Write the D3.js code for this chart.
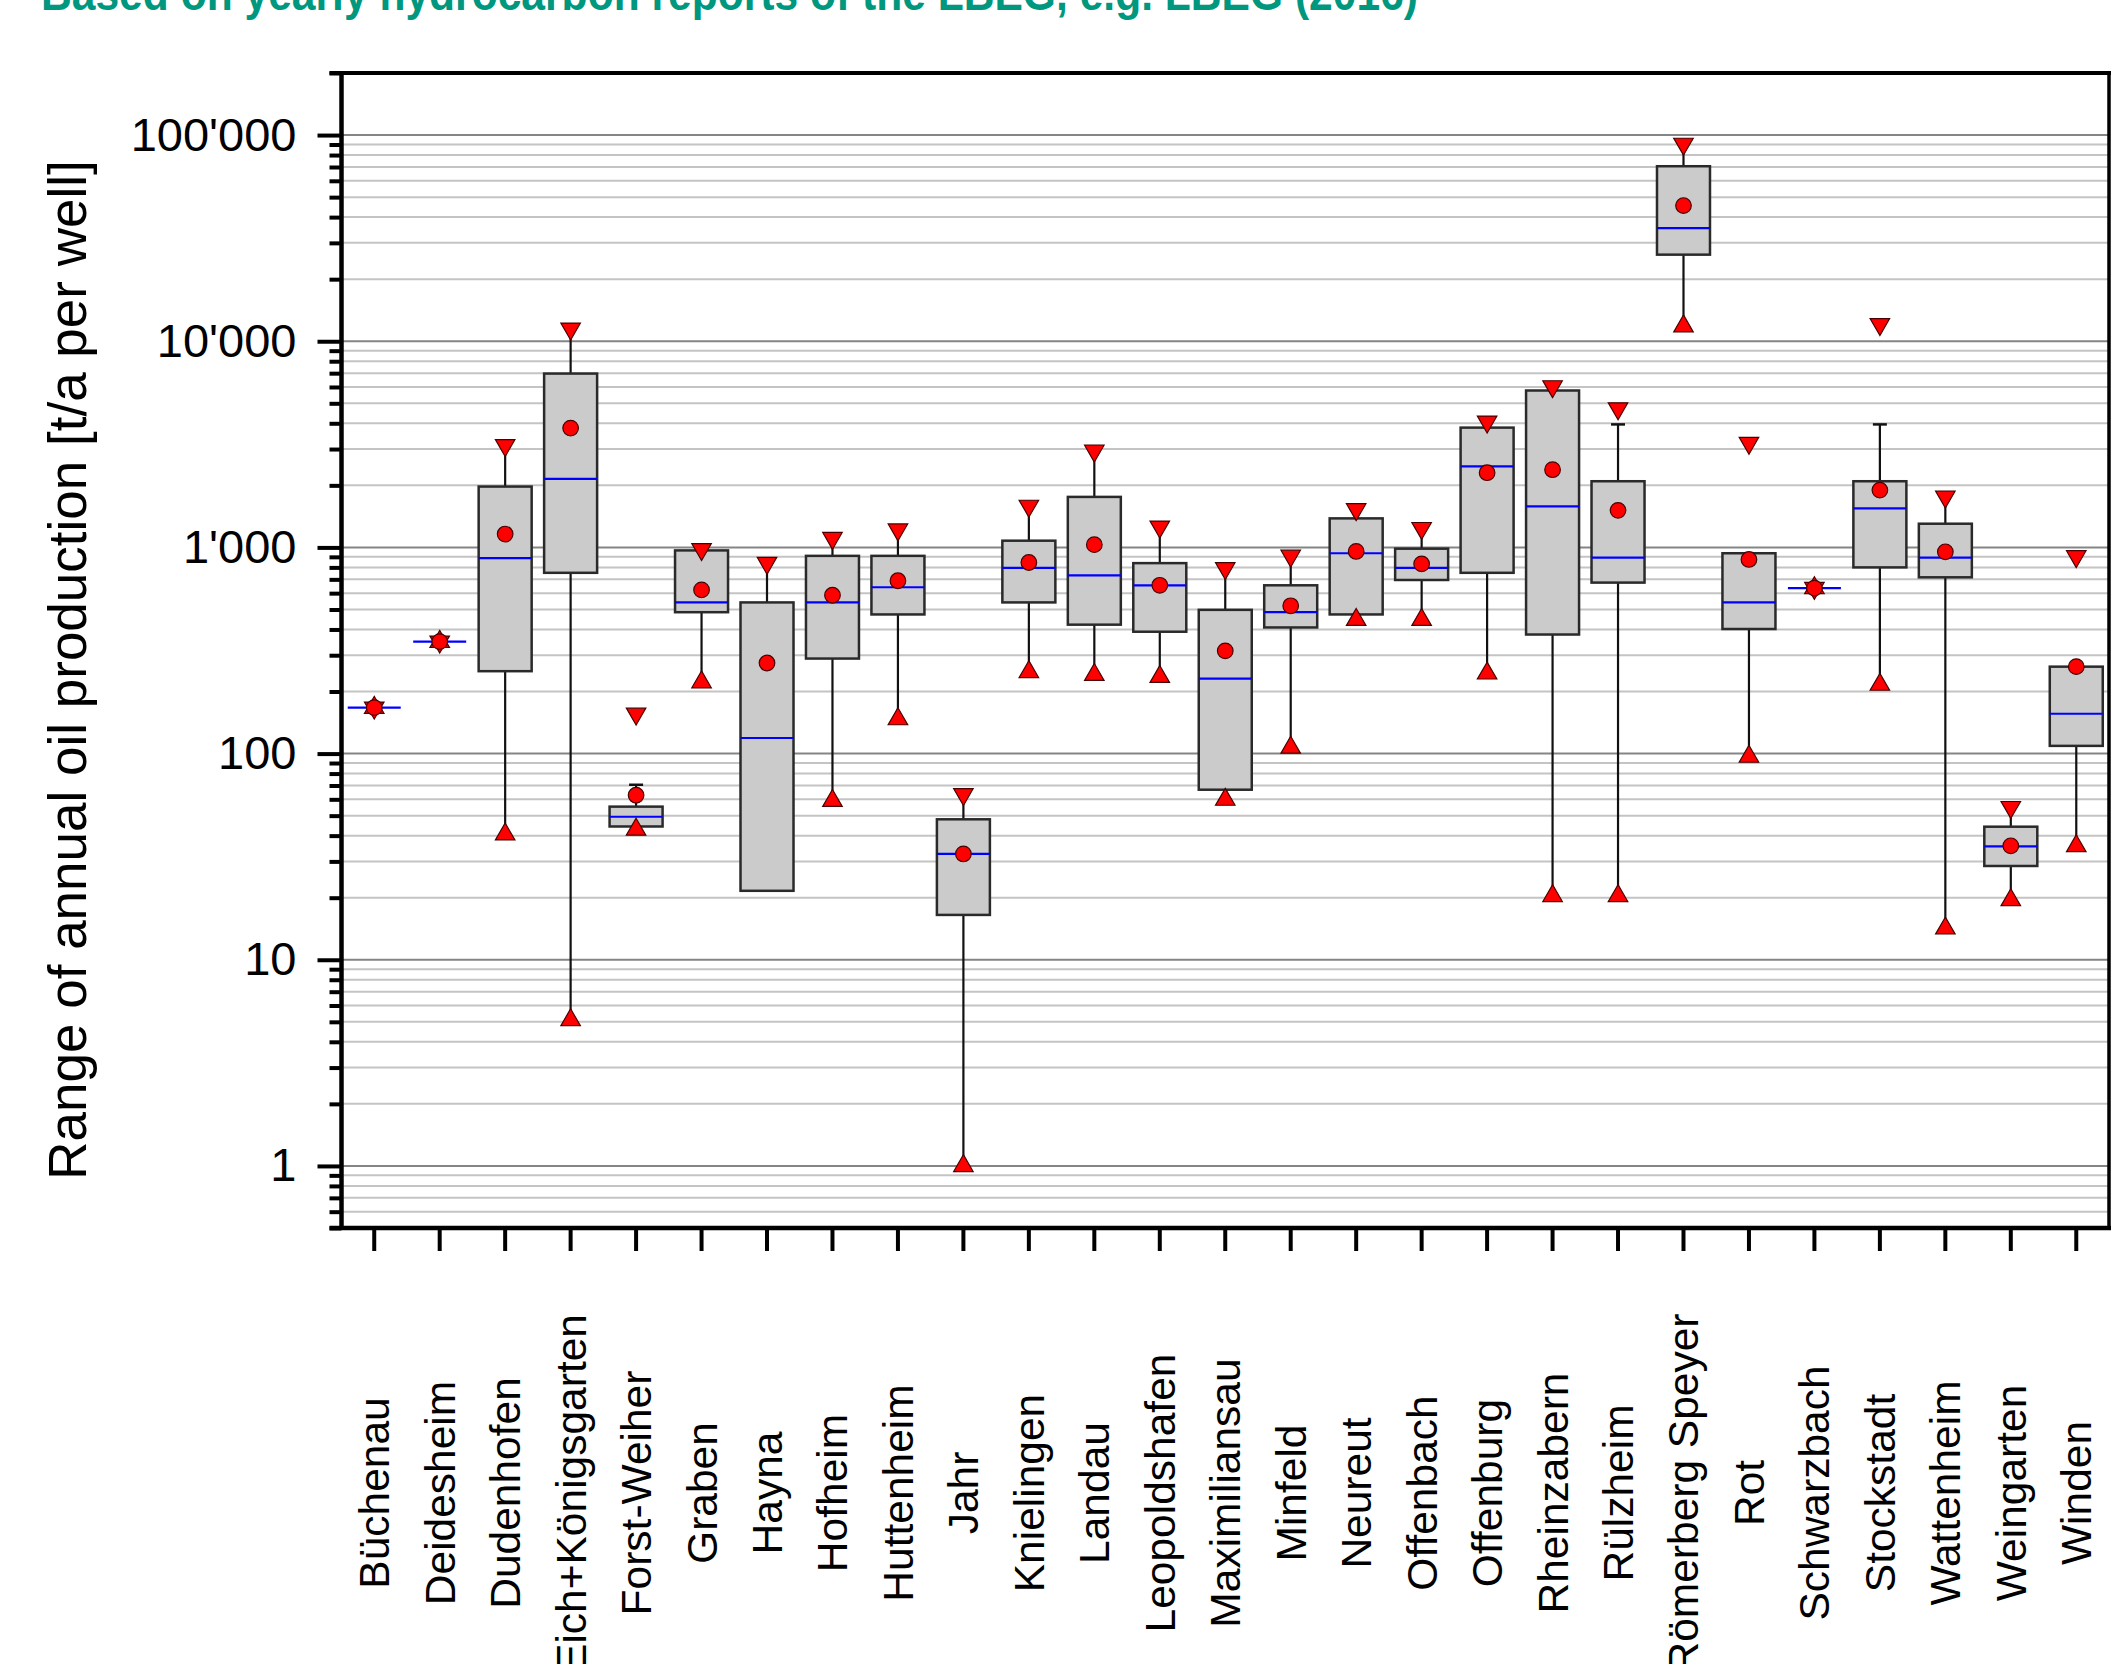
<!DOCTYPE html>
<html>
<head>
  <meta charset="utf-8">
  <title>Oil production per well</title>
  <script src="https://d3js.org/d3.v7.min.js"></script>
  <style>
    body { margin: 0; background: #fff; }
    text { font-family: "Liberation Sans", Arial, sans-serif; }
  </style>
</head>
<body>
<script>
// fields (x axis)
var categories = ["Büchenau", "Deidesheim", "Dudenhofen", "Eich+Königsgarten", "Forst-Weiher",
  "Graben", "Hayna", "Hofheim", "Huttenheim", "Jahr", "Knielingen", "Landau", "Leopoldshafen",
  "Maximiliansau", "Minfeld", "Neureut", "Offenbach", "Offenburg", "Rheinzabern", "Rülzheim",
  "Römerberg Speyer", "Rot", "Schwarzbach", "Stockstadt", "Wattenheim", "Weingarten", "Winden"];

// t/a per well
var maxVals     = [167, 349, 3130, 11500, 156, 980, 840, 1110, 1220, 63.5, 1590, 2940, 1260, 792, 910, 1530, 1240, 4070, 6040, 4720, 90600, 3210, 635, 12100, 1760, 55, 905];
var whiskerHigh = [167, 349, 3130, 11500, 70.6, 980, 840, 1110, 1220, 63.5, 1590, 2940, 1260, 792, 910, 1530, 1240, 4070, 6040, 3950, 90600, 937, 635, 3950, 1760, 55, 264];
var q3Vals      = [167, 349, 1973, 6970, 55.3, 967, 541, 910, 910, 48, 1078, 1758, 839, 498, 655, 1383, 986, 3811, 5768, 2094, 70600, 937, 635, 2094, 1303, 44.2, 264];
var medianVals  = [167, 349, 887, 2148, 49.4, 541, 119, 541, 641, 32.6, 795, 731, 655, 231, 485, 937, 795, 2472, 1583, 892, 35400, 541, 635, 1545, 892, 35.5, 156];
var meanVals    = [167, 349, 1161, 3790, 62.8, 622, 275, 586, 689, 32.6, 845, 1031, 655, 315, 521, 956, 832, 2303, 2382, 1513, 45500, 874, 635, 1897, 952, 35.7, 264];
var q1Vals      = [167, 349, 251, 753, 44.3, 485, 21.6, 289, 473, 16.5, 541, 422, 390, 66.8, 409, 473, 695, 753, 378, 675, 26300, 402, 635, 800, 716, 28.5, 109];
var whiskerLow  = [167, 349, 40.6, 5.1, 42.8, 222, 21.6, 59, 147, 1, 249, 241, 236, 59.8, 107, 446, 446, 245, 20.4, 20.4, 11830, 96.7, 635, 216, 14.2, 19.5, 35.6];
var minVals     = [167, 349, 40.6, 5.1, 42.8, 222, null, 59, 147, 1, 249, 241, 236, 59.8, 107, 446, 446, 245, 20.4, 20.4, 11830, 96.7, 635, 216, 14.2, 19.5, 35.6];

var majorTicks = [1, 10, 100, 1000, 10000, 100000];
var yDomain = [0.5, 200000];

var width = 2112, height = 1664;
var plotLeft = 341.5, plotRight = 2109, plotTop = 73, plotBottom = 1228;

var svg = d3.select("body").append("svg").attr("width", width).attr("height", height);

// title (cut at the top edge like the source)
svg.append("text")
  .attr("x", 41).attr("y", 10)
  .attr("textLength", 1377).attr("lengthAdjust", "spacingAndGlyphs")
  .attr("font-size", 48).attr("font-weight", "bold").attr("fill", "#00977f")
  .text("Based on yearly hydrocarbon reports of the LBEG, e.g. LBEG (2016)");

var x = d3.scaleBand().domain(categories).range([plotLeft, plotRight]).padding(0);
var y = d3.scaleLog().domain(yDomain).range([plotBottom, plotTop]);

// minor values 0.5..0.9, 2..9 x decade, up to 200000
var minorTicks = [];
for (var d = -1; d <= 5; d++) {
  for (var k = 2; k <= 9; k++) {
    var v = k * Math.pow(10, d);
    if (v >= yDomain[0] - 1e-9 && v <= yDomain[1] + 1e-9) minorTicks.push(+v.toPrecision(3));
  }
}

// grid
svg.append("g").selectAll("line").data(minorTicks.filter(function(v) { return v < 200000; })).enter()
  .append("line")
  .attr("x1", plotLeft).attr("x2", plotRight)
  .attr("y1", function(v) { return y(v); }).attr("y2", function(v) { return y(v); })
  .attr("stroke", "#c4c4c4").attr("stroke-width", 2);
svg.append("g").selectAll("line").data(majorTicks).enter()
  .append("line")
  .attr("x1", plotLeft).attr("x2", plotRight)
  .attr("y1", function(v) { return y(v); }).attr("y2", function(v) { return y(v); })
  .attr("stroke", "#858585").attr("stroke-width", 2);

// frame
svg.append("line").attr("x1", plotLeft - 12).attr("x2", plotRight + 2).attr("y1", plotTop).attr("y2", plotTop)
  .attr("stroke", "#000").attr("stroke-width", 4);
svg.append("line").attr("x1", plotRight).attr("x2", plotRight).attr("y1", plotTop).attr("y2", plotBottom)
  .attr("stroke", "#000").attr("stroke-width", 3.5);

// y axis
var fmt = function(v) { return d3.format(",")(v).replace(/,/g, "'"); };
var yMinor = svg.append("g").attr("transform", "translate(" + plotLeft + ",0)")
  .call(d3.axisLeft(y).tickValues(minorTicks).tickSize(12).tickFormat(""));
var yMajor = svg.append("g").attr("transform", "translate(" + plotLeft + ",0)")
  .call(d3.axisLeft(y).tickValues(majorTicks).tickSize(24).tickPadding(21).tickFormat(fmt));
[yMinor, yMajor].forEach(function(g) {
  g.select(".domain").remove();
  g.selectAll(".tick line").attr("stroke", "#000").attr("stroke-width", 4);
});
yMajor.selectAll(".tick text")
  .attr("font-size", 47).attr("fill", "#000")
  .attr("font-family", "'Liberation Sans', Arial, sans-serif");
svg.append("line").attr("x1", plotLeft).attr("x2", plotLeft).attr("y1", plotTop - 2).attr("y2", plotBottom + 2)
  .attr("stroke", "#000").attr("stroke-width", 4.5);

svg.append("text")
  .attr("transform", "translate(86,670) rotate(-90)")
  .attr("text-anchor", "middle").attr("font-size", 53).attr("fill", "#000")
  .text("Range of annual oil production [t/a per well]");

// x axis
var xAxis = svg.append("g").attr("transform", "translate(0," + plotBottom + ")")
  .call(d3.axisBottom(x).tickSize(23).tickFormat(""));
xAxis.select(".domain").remove();
xAxis.selectAll(".tick line").attr("stroke", "#000").attr("stroke-width", 4);
svg.append("line").attr("x1", plotLeft - 12).attr("x2", plotRight + 2).attr("y1", plotBottom).attr("y2", plotBottom)
  .attr("stroke", "#000").attr("stroke-width", 4.5);

svg.append("g").selectAll("text").data(categories).enter()
  .append("text")
  .attr("transform", function(c) {
    return "translate(" + (x(c) + x.bandwidth() / 2 + 15) + ",1493) rotate(-90)";
  })
  .attr("text-anchor", "middle").attr("font-size", 42.5).attr("fill", "#000")
  .text(function(c) { return c; });

// boxes
var data = categories.map(function(c, i) {
  return { name: c, max: maxVals[i], whi: whiskerHigh[i], q3: q3Vals[i], med: medianVals[i],
           mean: meanVals[i], q1: q1Vals[i], wlo: whiskerLow[i], min: minVals[i] };
});
var boxW = 53, capW = 14;
var cx = function(d) { return x(d.name) + x.bandwidth() / 2; };

var g = svg.append("g");
g.selectAll(".wh").data(data).enter().append("line")
  .attr("x1", cx).attr("x2", cx)
  .attr("y1", function(d) { return y(d.whi); }).attr("y2", function(d) { return y(d.q3); })
  .attr("stroke", "#111").attr("stroke-width", 2.2);
g.selectAll(".wl").data(data).enter().append("line")
  .attr("x1", cx).attr("x2", cx)
  .attr("y1", function(d) { return y(d.q1); }).attr("y2", function(d) { return y(d.wlo); })
  .attr("stroke", "#111").attr("stroke-width", 2.2);
// caps where the whisker ends short of the extreme
g.selectAll(".cap").data(data.filter(function(d) { return d.whi < d.max && d.whi > d.q3; })).enter()
  .append("line")
  .attr("x1", function(d) { return cx(d) - capW / 2; }).attr("x2", function(d) { return cx(d) + capW / 2; })
  .attr("y1", function(d) { return y(d.whi); }).attr("y2", function(d) { return y(d.whi); })
  .attr("stroke", "#111").attr("stroke-width", 2.5);

g.selectAll("rect").data(data).enter().append("rect")
  .attr("x", function(d) { return cx(d) - boxW / 2; })
  .attr("y", function(d) { return y(d.q3); })
  .attr("width", boxW)
  .attr("height", function(d) { return y(d.q1) - y(d.q3); })
  .attr("fill", "#cbcbcb").attr("stroke", "#2a2a2a").attr("stroke-width", 2.5);
g.selectAll(".med").data(data).enter().append("line")
  .attr("x1", function(d) { return cx(d) - boxW / 2; }).attr("x2", function(d) { return cx(d) + boxW / 2; })
  .attr("y1", function(d) { return y(d.med); }).attr("y2", function(d) { return y(d.med); })
  .attr("stroke", "#0000ff").attr("stroke-width", 2.2);

var tri = d3.symbol().type(d3.symbolTriangle).size(165);
g.selectAll(".tmax").data(data).enter().append("path")
  .attr("d", tri)
  .attr("transform", function(d) { return "translate(" + cx(d) + "," + y(d.max) + ") rotate(180)"; })
  .attr("fill", "#ff0000").attr("stroke", "#4a0000").attr("stroke-width", 1.2);
g.selectAll(".tmin").data(data.filter(function(d) { return d.min != null; })).enter().append("path")
  .attr("d", tri)
  .attr("transform", function(d) { return "translate(" + cx(d) + "," + y(d.min) + ")"; })
  .attr("fill", "#ff0000").attr("stroke", "#4a0000").attr("stroke-width", 1.2);
g.selectAll("circle").data(data).enter().append("circle")
  .attr("cx", cx).attr("cy", function(d) { return y(d.mean); }).attr("r", 7.8)
  .attr("fill", "#ff0000").attr("stroke", "#4a0000").attr("stroke-width", 1.2);
</script>
</body>
</html>
